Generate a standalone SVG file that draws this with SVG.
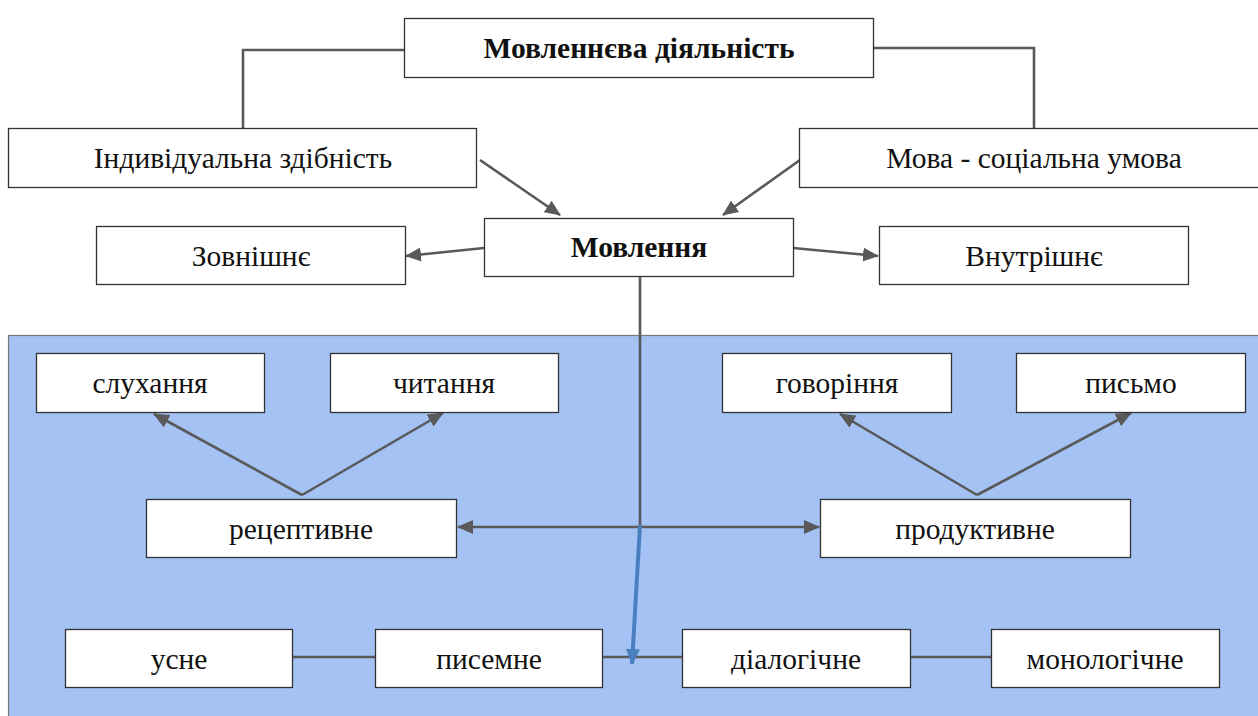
<svg xmlns="http://www.w3.org/2000/svg" width="1258" height="716" viewBox="0 0 1258 716">
<defs>
<style>
.box{fill:#fff;stroke:#333;stroke-width:1.3}
.t{font-family:"Liberation Serif","Times New Roman",serif;font-size:29.5px;fill:#111;text-anchor:middle;dominant-baseline:central}
.b{font-weight:bold}
.c{fill:none;stroke:#595959;stroke-width:2.6}
</style>
<marker id="ahs" markerWidth="16" markerHeight="14" viewBox="0 0 16 14" refX="15" refY="7" orient="auto-start-reverse" markerUnits="userSpaceOnUse">
<path d="M0,0 L16,7 L0,14 z" fill="#595959"/>
</marker>
<marker id="ahb" markerWidth="16" markerHeight="14" viewBox="0 0 16 14" refX="15" refY="7" orient="auto" markerUnits="userSpaceOnUse">
<path d="M0,0 L16,7 L0,14 z" fill="#4a7fbf"/>
</marker>
</defs>
<rect width="1258" height="716" fill="#fff"/>
<rect id="panel" x="8.5" y="335.5" width="1260" height="390" fill="#a4c2f4" stroke="#777" stroke-width="1.2"/>

<g id="connectors">
<path class="c" d="M404,50 H243 V128"/>
<path class="c" d="M873,48 H1034 V128"/>
<path class="c" d="M480,160 L560,215" marker-end="url(#ahs)"/>
<path class="c" d="M800,160 L723,215" marker-end="url(#ahs)"/>
<path class="c" d="M484,248 L406,256" marker-end="url(#ahs)"/>
<path class="c" d="M793,248 L878,256" marker-end="url(#ahs)"/>
<path class="c" d="M640,276 V527"/>
<path class="c" d="M458,527 H819" marker-start="url(#ahs)" marker-end="url(#ahs)"/>
<path class="c" d="M302,495 L154,414" marker-end="url(#ahs)"/>
<path class="c" d="M302,495 L443,413" marker-end="url(#ahs)"/>
<path class="c" d="M977,495 L840,414" marker-end="url(#ahs)"/>
<path class="c" d="M977,495 L1131,413" marker-end="url(#ahs)"/>
<path class="c" d="M292,657 H375 M602,657 H682 M910,657 H991"/>
<path d="M640,525 L632,664" fill="none" stroke="#4a7fbf" stroke-width="4" marker-end="url(#ahb)"/>
</g>

<g id="n-diyalnist"><rect class="box" x="404.5" y="18.5" width="469" height="59"/><text class="t b" x="639" y="48">Мовленнєва діяльність</text></g>
<g id="n-indyvid"><rect class="box" x="8.5" y="128.5" width="468" height="59"/><text class="t" x="243" y="158">Індивідуальна здібність</text></g>
<g id="n-mova"><rect class="box" x="799.5" y="128.5" width="470" height="59"/><text class="t" x="1034" y="158">Мова - соціальна умова</text></g>
<g id="n-movlennya"><rect class="box" x="484.5" y="218.5" width="309" height="58"/><text class="t b" x="639" y="247">Мовлення</text></g>
<g id="n-zovn"><rect class="box" x="96.5" y="226.5" width="309" height="58"/><text class="t" x="251" y="256">Зовнішнє</text></g>
<g id="n-vnutr"><rect class="box" x="879.5" y="226.5" width="309" height="58"/><text class="t" x="1034" y="256">Внутрішнє</text></g>

<g id="n-sluh"><rect class="box" x="36.5" y="353.5" width="228" height="59"/><text class="t" x="150" y="383">слухання</text></g>
<g id="n-chyt"><rect class="box" x="330.5" y="353.5" width="228" height="59"/><text class="t" x="444" y="383">читання</text></g>
<g id="n-gov"><rect class="box" x="722.5" y="353.5" width="229" height="59"/><text class="t" x="837" y="383">говоріння</text></g>
<g id="n-pysmo"><rect class="box" x="1016.5" y="353.5" width="229" height="59"/><text class="t" x="1131" y="383">письмо</text></g>

<g id="n-recep"><rect class="box" x="146.5" y="499.5" width="310" height="58"/><text class="t" x="301" y="529">рецептивне</text></g>
<g id="n-prod"><rect class="box" x="820.5" y="499.5" width="310" height="58"/><text class="t" x="975" y="529">продуктивне</text></g>

<g id="n-usne"><rect class="box" x="65.5" y="629.5" width="227" height="58"/><text class="t" x="179" y="659">усне</text></g>
<g id="n-pysemne"><rect class="box" x="375.5" y="629.5" width="227" height="58"/><text class="t" x="489" y="659">писемне</text></g>
<g id="n-dial"><rect class="box" x="682.5" y="629.5" width="228" height="58"/><text class="t" x="796" y="659">діалогічне</text></g>
<g id="n-monol"><rect class="box" x="991.5" y="629.5" width="228" height="58"/><text class="t" x="1105" y="659">монологічне</text></g>
</svg>
